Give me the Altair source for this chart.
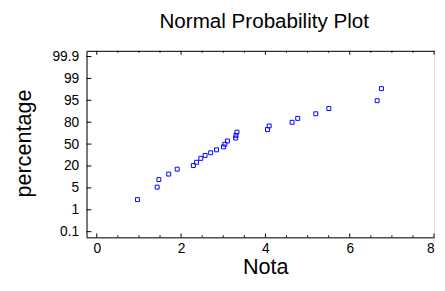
import altair as alt
import pandas as pd

# Data (x = Nota, y = position on the probability axis,
# in tick-index units: -4 -> 0.1 %, 0 -> 50 %, 4 -> 99.9 %)
nota = [0.965, 1.432, 1.472, 1.706, 1.907, 2.290, 2.367, 2.467, 2.570, 2.701,
        2.841, 3.005, 3.037, 3.098, 3.294, 3.301, 3.325, 4.049, 4.089, 4.633,
        4.766, 5.194, 5.505, 6.650, 6.752]
prob_pos = [-2.536, -1.966, -1.621, -1.370, -1.145, -0.979, -0.831, -0.652, -0.517,
            -0.396, -0.262, -0.127, -0.006, 0.142, 0.277, 0.398, 0.546, 0.667,
            0.829, 0.995, 1.174, 1.385, 1.623, 1.982, 2.533]

y_tick_pos = [-4, -3, -2, -1, 0, 1, 2, 3, 4]
y_tick_labels = ["0.1", "1", "5", "20", "50", "80", "95", "99", "99.9"]
x_major = [0, 2, 4, 6, 8]
x_minor = [0.5, 1, 1.5, 2.5, 3, 3.5, 4.5, 5, 5.5, 6.5, 7, 7.5]

W, H = 354, 190
FONT = "Liberation Sans"
BLUE = "#0000FF"

df = pd.DataFrame({"Nota": nota, "pos": prob_pos})
xmaj = pd.DataFrame({"v": x_major})
xmin = pd.DataFrame({"v": x_minor})
ytk = pd.DataFrame({"v": y_tick_pos})

xscale = alt.Scale(domain=[-0.243, 8], nice=False, zero=False)
yscale = alt.Scale(domain=[-4.26, 4.26], nice=False, zero=False)

label_arr = "[" + ",".join("'%s'" % s for s in y_tick_labels) + "]"
label_expr = label_arr + "[round(datum.value) + 4]"

points = alt.Chart(df).mark_square(filled=False, size=16, strokeWidth=1, color=BLUE, opacity=1).encode(
    x=alt.X("Nota:Q", scale=xscale,
            axis=alt.Axis(orient="bottom", values=x_major, ticks=False, tickSize=0,
                          labelPadding=4, grid=False, domainColor="black",
                          labelFont=FONT, labelFontSize=14, labelColor="black",
                          title="Nota", titleFont=FONT, titleFontSize=22,
                          titleFontWeight="normal", titleColor="black",
                          titleBaseline="alphabetic", titleY=37, titleX=182)),
    y=alt.Y("pos:Q", scale=yscale,
            axis=alt.Axis(orient="left", values=y_tick_pos, labelExpr=label_expr,
                          ticks=False, tickSize=0, labelPadding=8, grid=False,
                          domainColor="black", labelFont=FONT, labelFontSize=14,
                          labelColor="black", title="percentage", titleFont=FONT,
                          titleFontSize=22, titleFontWeight="normal", titleColor="black",
                          titleBaseline="alphabetic", titleX=-57, titleY=94)),
)

top_frame = alt.Chart(xmaj).mark_rule(color="black", strokeWidth=1).encode(
    x=alt.X("v:Q", scale=xscale,
            axis=alt.Axis(orient="top", labels=False, ticks=False, tickSize=0,
                          grid=False, title=None, domainColor="black")),
    y=alt.value(0), y2=alt.value(4),
)
top_minor = alt.Chart(xmin).mark_rule(color="black", strokeWidth=1).encode(
    x=alt.X("v:Q", scale=xscale, axis=None), y=alt.value(0), y2=alt.value(2),
)
bot_major = alt.Chart(xmaj).mark_rule(color="black", strokeWidth=1).encode(
    x=alt.X("v:Q", scale=xscale, axis=None), y=alt.value(H), y2=alt.value(H - 4),
)
bot_minor = alt.Chart(xmin).mark_rule(color="black", strokeWidth=1).encode(
    x=alt.X("v:Q", scale=xscale, axis=None), y=alt.value(H), y2=alt.value(H - 2),
)
left_ticks = alt.Chart(ytk).mark_rule(color="black", strokeWidth=1).encode(
    y=alt.Y("v:Q", scale=yscale, axis=None), x=alt.value(0), x2=alt.value(5),
)

chart = alt.layer(points, top_frame, top_minor, bot_major, bot_minor, left_ticks).resolve_axis(
    x="independent", y="independent"
).properties(
    width=W, height=H,
    title=alt.TitleParams("Normal Probability Plot", font=FONT, fontSize=21,
                          fontWeight="normal", color="black", anchor="middle",
                          offset=18, dx=4),
    autosize=alt.AutoSizeParams(type="none"),
    padding={"left": 80, "top": 41, "right": 3, "bottom": 51},
).configure_view(stroke=None).configure(background="white")

chart.save("out.html", embed_options={"renderer": "svg", "actions": False})
